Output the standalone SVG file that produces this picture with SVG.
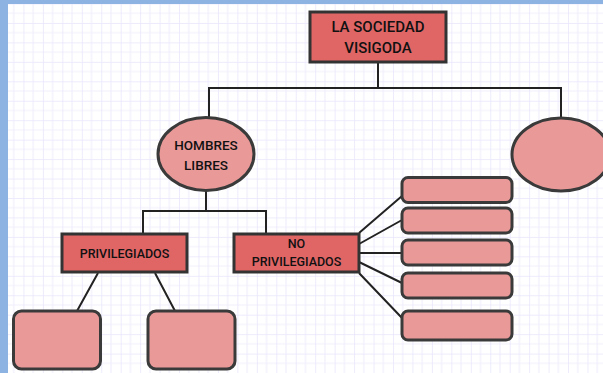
<svg xmlns="http://www.w3.org/2000/svg" width="603" height="373" viewBox="0 0 603 373">
<style>
.dark{fill:#e06666;stroke:#333;stroke-width:3}
.light{fill:#ea9999;stroke:#3a3a3a;stroke-width:3}
.t{font-family:Roboto,"Liberation Sans",sans-serif;font-weight:500;fill:#111;text-anchor:middle}
.c{fill:none;stroke:#222;stroke-width:2}
</style>
<defs>
<pattern id="grid" x="4" y="3.5" width="19.45" height="19.45" patternUnits="userSpaceOnUse">
<path d="M9.72 0V19.45M0 9.72H19.45" stroke="#f1effc" stroke-width="1.2" fill="none"/>
<path d="M0 0V19.45M0 0H19.45" stroke="#e8e5fb" stroke-width="1.5" fill="none"/>
</pattern>
</defs>
<rect width="603" height="373" fill="#fff"/>
<rect width="603" height="373" fill="url(#grid)"/>
<rect x="0" y="0" width="603" height="4" fill="#8db3e2"/>
<rect x="0" y="0" width="8" height="373" fill="#8db3e2"/>
<g id="connectors">
<path class="c" d="M378 62V88M209 118V88H561V118"/>
<path class="c" d="M206 191V211M143 234V211H266V234"/>
<path class="c" d="M98 273L77 311M155 273L175 311"/>
<path class="c" d="M359 233L402 196M359 244L402 220M359 253H402M359 262L402 283M359 273L402 318"/>
</g>
<g id="n-sociedad"><rect class="dark" x="310" y="12" width="136" height="50"/>
<text class="t" x="378" y="31.5" font-size="15">LA SOCIEDAD</text><text class="t" x="378" y="52.5" font-size="15">VISIGODA</text></g>
<g id="n-hombres"><ellipse class="light" cx="206" cy="154" rx="48" ry="36.5"/>
<text class="t" x="206" y="150" font-size="13.5">HOMBRES</text><text class="t" x="206" y="169.5" font-size="13.5">LIBRES</text></g>
<g id="n-right"><ellipse class="light" cx="561" cy="154.5" rx="49" ry="36.5"/></g>
<g id="n-priv"><rect class="dark" x="62" y="234" width="125" height="38"/>
<text class="t" x="124.5" y="257.5" font-size="12.5">PRIVILEGIADOS</text></g>
<g id="n-nopriv"><rect class="dark" x="234" y="234" width="125" height="38"/>
<text class="t" x="296.5" y="248" font-size="12.5">NO</text><text class="t" x="296.5" y="266" font-size="12.5">PRIVILEGIADOS</text></g>
<g id="n-b1"><rect class="light" x="402" y="177.5" width="110" height="25" rx="6"/></g>
<g id="n-b2"><rect class="light" x="402" y="208" width="110" height="25" rx="6"/></g>
<g id="n-b3"><rect class="light" x="402" y="240" width="110" height="25" rx="6"/></g>
<g id="n-b4"><rect class="light" x="402" y="273" width="110" height="25" rx="6"/></g>
<g id="n-b5"><rect class="light" x="402" y="311" width="110" height="29" rx="6"/></g>
<g id="n-p1"><rect class="light" x="13.5" y="311" width="87" height="58" rx="8"/></g>
<g id="n-p2"><rect class="light" x="148" y="311" width="87" height="58" rx="8"/></g>
</svg>
